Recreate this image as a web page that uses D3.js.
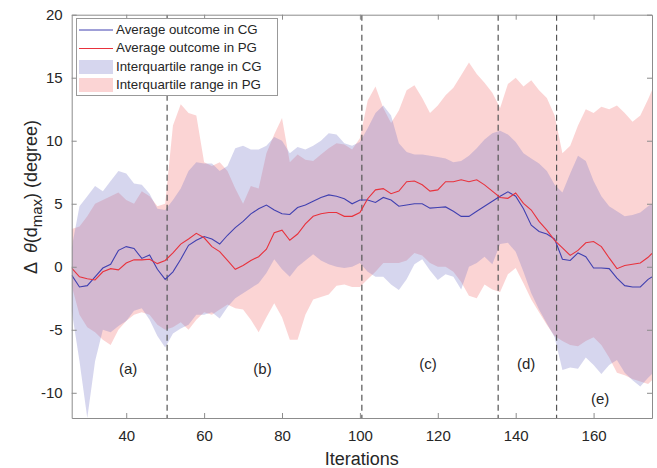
<!DOCTYPE html>
<html>
<head>
<meta charset="utf-8">
<script src="https://cdn.jsdelivr.net/npm/d3@7"></script>
<style>
  body { margin: 0; background: #fff; }
  svg text { font-family: "Liberation Sans", Arial, sans-serif; fill: #262626; }
</style>
</head>
<body>
<script>
// iterations sampled every 2 steps
const iterations = [26,28,30,32,34,36,38,40,42,44,46,48,50,52,54,56,58,60,62,64,66,68,70,72,74,76,78,80,82,84,86,88,90,92,94,96,98,100,102,104,106,108,110,112,114,116,118,120,122,124,126,128,130,132,134,136,138,140,142,144,146,148,150,152,154,156,158,160,162,164,166,168,170,172,174,175];

const meanCG = [-0.66,-1.6,-1.5,-0.8,-0.1,0.2,1.3,1.6,1.45,0.66,0.93,-0.2,-1.0,-0.4,0.6,1.7,2.1,2.4,2.2,1.8,2.5,3.1,3.6,4.2,4.6,4.9,4.5,4.2,4.15,4.7,4.9,5.2,5.5,5.7,5.6,5.4,5.0,5.3,5.3,5.1,5.5,5.3,4.8,4.9,5.0,5.0,4.65,4.7,4.75,4.4,4.0,4.0,4.4,4.8,5.2,5.6,5.95,5.6,4.6,3.3,2.8,2.6,2.2,0.6,0.5,1.1,0.8,-0.1,-0.1,-0.15,-0.9,-1.5,-1.6,-1.6,-1.0,-0.8];

const meanPG = [-0.1,-0.8,-0.95,-1.05,-0.4,-0.15,-0.25,0.3,0.55,0.55,0.6,0.25,0.5,1.1,1.8,2.2,2.65,2.3,1.6,1.2,0.5,-0.2,0.1,0.5,0.8,1.4,2.7,2.9,2.1,2.6,3.4,4.0,4.2,4.3,4.3,4.0,4.0,4.3,5.4,6.1,6.2,5.8,6.0,6.75,6.8,6.5,6.0,6.1,6.75,6.75,6.9,6.75,6.9,6.5,6.0,5.5,5.43,5.85,5.03,4.5,3.6,2.9,2.1,1.5,0.9,1.3,1.9,2.0,1.6,0.7,-0.15,0.1,0.2,0.3,0.75,1.06];

const q1CG = [-3.5,-7.5,-12.0,-7.5,-5.0,-5.2,-4.7,-4.3,-3.5,-3.3,-4.2,-5.5,-6.4,-5.3,-4.9,-4.6,-3.8,-3.8,-3.6,-4.1,-3.2,-2.5,-2.1,-1.7,-1.3,-0.5,0.6,-0.2,-0.8,0.0,0.5,1.0,0.5,0.2,0.0,-0.1,0.0,0.3,-0.4,-0.8,-0.8,-1.4,-1.85,-1.0,0.2,0.6,-0.3,-1.06,-0.6,-0.8,-1.8,0.0,0.3,0.8,0.2,1.8,1.9,1.2,-0.4,-2.1,-3.4,-4.5,-5.6,-8.2,-8.0,-8.1,-7.2,-7.8,-8.5,-7.8,-7.4,-8.4,-9.0,-9.5,-8.8,-8.5];

const q3CG = [1.5,4.8,5.6,6.4,6.0,6.8,7.6,7.4,6.6,6.5,5.8,4.6,4.5,5.3,6.2,7.6,8.3,8.2,8.2,7.6,8.0,9.4,9.6,9.3,9.3,9.6,10.3,10.0,9.0,9.5,9.3,9.6,10.0,10.6,10.5,9.8,9.6,9.9,11.0,12.2,12.8,12.0,9.8,9.1,8.9,8.9,8.8,8.7,8.6,8.3,8.4,8.8,9.4,10.1,10.6,10.8,10.5,9.9,9.0,8.6,8.2,7.6,6.5,5.9,7.4,8.8,8.4,6.8,5.6,4.8,4.4,4.0,4.1,4.3,4.8,5.0];

const q1PG = [-1.5,-3.8,-4.8,-5.2,-5.8,-6.2,-5.0,-4.3,-3.8,-3.6,-3.8,-4.6,-5.0,-4.8,-4.4,-5.0,-4.2,-3.6,-3.8,-3.4,-3.0,-3.3,-3.4,-4.2,-5.2,-4.0,-2.9,-4.0,-5.8,-5.8,-3.8,-2.6,-2.4,-2.2,-1.5,-1.4,-1.6,-1.6,-1.0,-0.4,0.3,0.3,0.3,0.5,1.1,0.9,0.3,0.0,0.0,-0.4,-1.2,-2.3,-2.5,-1.4,-1.8,-2.0,-0.6,-0.1,-1.3,-2.6,-3.6,-4.6,-5.5,-5.9,-6.2,-6.3,-5.9,-5.6,-6.2,-7.2,-8.4,-8.6,-8.9,-9.1,-9.3,-9.0];

const q3PG = [3.0,3.2,4.0,5.0,5.3,5.6,5.9,5.3,5.0,6.0,5.6,4.8,5.0,11.2,12.9,12.2,12.0,8.3,8.0,8.3,7.6,6.2,5.0,6.4,6.2,9.0,10.5,11.8,8.3,8.9,8.5,8.4,8.9,9.4,9.8,9.7,9.3,10.2,13.2,14.3,12.6,11.4,12.4,14.0,14.4,13.4,12.2,12.8,13.6,14.2,15.2,16.2,15.3,14.6,13.8,12.6,14.5,15.0,14.3,14.8,14.0,13.4,12.0,9.0,9.6,11.2,12.5,12.2,12.7,12.5,12.8,12.2,11.5,12.0,13.3,14.0];

const phaseBreaks = [50.5, 100.5, 135.5, 150.5];
const phaseLabels = ["(a)", "(b)", "(c)", "(d)", "(e)"];
const phaseLabelX = [40.5, 75, 117.5, 142.7, 161.7];
const phaseLabelY = [-8.2, -8.2, -7.8, -7.8, -10.6];

const xTicks = [40, 60, 80, 100, 120, 140, 160];
const yTicks = [-10, -5, 0, 5, 10, 15, 20];

const legendLabels = ["Average outcome in CG", "Average outcome in PG", "Interquartile range in CG", "Interquartile range in PG"];

document.addEventListener("DOMContentLoaded", function() {
    const width = 657;
    const height = 468;
    const left = 71.7, right = 652, top = 14.7, bottom = 418;

    const colCG = "#4040b0";
    const colPG = "#e8323c";
    const fillCG = "rgb(120,120,200)";
    const fillPG = "rgb(242,100,100)";
    const axisCol = "#8c8c8c";

    const svg = d3.select("body").append("svg").attr("width", width).attr("height", height);

    const xScale = d3.scaleLinear().domain([26, 175]).range([left, right]);
    const yScale = d3.scaleLinear().domain([-12, 20]).range([bottom, top]);

    const rows = iterations.map((it, i) => ({
        it: it, mCG: meanCG[i], mPG: meanPG[i],
        loCG: q1CG[i], hiCG: q3CG[i], loPG: q1PG[i], hiPG: q3PG[i]
    }));

    svg.append("clipPath").attr("id", "plotclip")
        .append("rect").attr("x", left).attr("y", top)
        .attr("width", right - left).attr("height", bottom - top);

    const plot = svg.append("g").attr("clip-path", "url(#plotclip)");

    //IQR bands
    const areaPG = d3.area().x(d => xScale(d.it)).y0(d => yScale(d.loPG)).y1(d => yScale(d.hiPG));
    const areaCG = d3.area().x(d => xScale(d.it)).y0(d => yScale(d.loCG)).y1(d => yScale(d.hiCG));

    plot.append("path").datum(rows).attr("d", areaPG)
        .attr("fill", fillPG).attr("fill-opacity", 0.28);
    plot.append("path").datum(rows).attr("d", areaCG)
        .attr("fill", fillCG).attr("fill-opacity", 0.3);

    //Phase separators
    plot.selectAll(".phase").data(phaseBreaks).enter().append("line")
        .attr("x1", d => xScale(d)).attr("x2", d => xScale(d))
        .attr("y1", top).attr("y2", bottom)
        .attr("stroke", "#555").attr("stroke-width", 1.2)
        .attr("stroke-dasharray", "6,4");

    //Mean lines
    const lineCG = d3.line().x(d => xScale(d.it)).y(d => yScale(d.mCG));
    const linePG = d3.line().x(d => xScale(d.it)).y(d => yScale(d.mPG));
    plot.append("path").datum(rows).attr("d", lineCG)
        .attr("fill", "none").attr("stroke", colCG).attr("stroke-width", 1.1);
    plot.append("path").datum(rows).attr("d", linePG)
        .attr("fill", "none").attr("stroke", colPG).attr("stroke-width", 1.1);

    //Phase labels
    svg.selectAll(".plabel").data(phaseLabels).enter().append("text")
        .attr("x", (d, i) => xScale(phaseLabelX[i]))
        .attr("y", (d, i) => yScale(phaseLabelY[i]))
        .attr("text-anchor", "middle").attr("dominant-baseline", "middle")
        .style("font-size", "15px")
        .text(d => d);

    //Axes (box with inward ticks on all sides), plain hyphen for negatives
    const fmt = d => String(d);
    const xAxis = d3.axisBottom(xScale).tickValues(xTicks).tickFormat(fmt).tickSizeInner(-5).tickSizeOuter(0).tickPadding(12);
    const yAxis = d3.axisLeft(yScale).tickValues(yTicks).tickFormat(fmt).tickSizeInner(-5).tickSizeOuter(0).tickPadding(9);
    const xTop = d3.axisTop(xScale).tickValues(xTicks).tickSizeInner(-5).tickSizeOuter(0).tickFormat("");
    const yRight = d3.axisRight(yScale).tickValues(yTicks).tickSizeInner(-5).tickSizeOuter(0).tickFormat("");

    const gx = svg.append("g").attr("transform", "translate(0," + bottom + ")").call(xAxis);
    const gy = svg.append("g").attr("transform", "translate(" + left + ",0)").call(yAxis);
    const gt = svg.append("g").attr("transform", "translate(0," + top + ")").call(xTop);
    const gr = svg.append("g").attr("transform", "translate(" + right + ",0)").call(yRight);

    [gx, gy, gt, gr].forEach(g => {
        g.select(".domain").attr("stroke", axisCol).attr("stroke-width", 1);
        g.selectAll(".tick line").attr("stroke", axisCol);
        g.selectAll(".tick text").style("font-size", "15px").attr("fill", "#262626")
            .style("font-family", "'Liberation Sans', Arial, sans-serif");
    });

    //Axis titles
    svg.append("text")
        .attr("x", (left + right) / 2).attr("y", 465)
        .attr("text-anchor", "middle")
        .style("font-size", "18px")
        .text("Iterations");

    const ylab = svg.append("text")
        .attr("transform", "translate(37," + 197 + ") rotate(-90)")
        .attr("text-anchor", "middle")
        .style("font-size", "18px");
    ylab.append("tspan").text("Δ");
    ylab.append("tspan").attr("dx", 9).style("font-style", "italic").text("θ");
    ylab.append("tspan").text("(d");
    ylab.append("tspan").attr("dy", 5).style("font-size", "15px").text("max");
    ylab.append("tspan").attr("dy", -5).text(") (degree)");

    //Legend
    const lg = svg.append("g").attr("id", "legend");
    lg.append("rect").attr("x", 76.5).attr("y", 18.5).attr("width", 201).attr("height", 77)
        .attr("fill", "#fff").attr("stroke", "#999").attr("stroke-width", 1);

    const legY = [30, 48.5, 67, 85];
    lg.append("line").attr("x1", 79).attr("x2", 113).attr("y1", legY[0]).attr("y2", legY[0])
        .attr("stroke", colCG).attr("stroke-width", 1);
    lg.append("line").attr("x1", 79).attr("x2", 113).attr("y1", legY[1]).attr("y2", legY[1])
        .attr("stroke", colPG).attr("stroke-width", 1);
    lg.append("rect").attr("x", 79).attr("y", legY[2] - 7).attr("width", 34).attr("height", 14)
        .attr("fill", fillCG).attr("fill-opacity", 0.3);
    lg.append("rect").attr("x", 79).attr("y", legY[3] - 7).attr("width", 34).attr("height", 14)
        .attr("fill", fillPG).attr("fill-opacity", 0.28);

    lg.selectAll(".ltext").data(legendLabels).enter().append("text")
        .attr("x", 116).attr("y", (d, i) => legY[i])
        .attr("dominant-baseline", "middle")
        .style("font-size", "13.3px")
        .text(d => d);
});
</script>
</body>
</html>
